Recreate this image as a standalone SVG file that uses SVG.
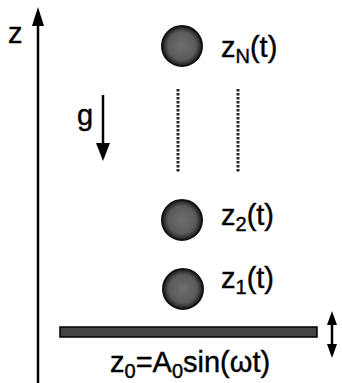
<svg xmlns="http://www.w3.org/2000/svg" width="342" height="383" viewBox="0 0 342 383">
<defs>
<radialGradient id="ballg" cx="50%" cy="50%" r="50%">
<stop offset="0%" stop-color="#6e6e6e"/>
<stop offset="70%" stop-color="#5a5a5a"/>
<stop offset="100%" stop-color="#1a1a1a"/>
</radialGradient>
</defs>
<style>
.t{font-family:"Liberation Sans",Arial,sans-serif;fill:#000;stroke:#000;stroke-width:0.4;font-size:29px}
.s{font-size:20px}
.ball{fill:url(#ballg);stroke:#111;stroke-width:2}
.ax{stroke:#000;stroke-width:2.5;fill:none}
.dot{stroke:#222;stroke-width:3;stroke-dasharray:2.5 1.5;fill:none}
.head{fill:#000;stroke:none}
</style>
<rect width="342" height="383" fill="#fff"/>
<g id="connectors">
<line class="ax" x1="38" y1="20" x2="38" y2="383"/>
<polygon class="head" points="38,7 32,26 44,26"/>
<line class="ax" x1="103" y1="95" x2="103" y2="148"/>
<polygon class="head" points="103,161 96,143 110,143"/>
<line class="dot" x1="178" y1="89" x2="178" y2="172"/>
<line class="dot" x1="238" y1="89" x2="238" y2="172"/>
<line class="ax" x1="332" y1="322" x2="332" y2="347"/>
<polygon class="head" points="332,311 327,325 337,325"/>
<polygon class="head" points="332,358 327,344 337,344"/>
</g>
<g id="axis-label"><text class="t" x="8" y="43">z</text></g>
<g id="g-label"><text class="t" x="77" y="125">g</text></g>
<g id="ballN"><circle class="ball" cx="182" cy="46" r="20"/><text class="t" x="221" y="57">z<tspan class="s" dy="6">N</tspan><tspan dy="-6">(t)</tspan></text></g>
<g id="ball2"><circle class="ball" cx="182" cy="220" r="20"/><text class="t" x="221" y="225">z<tspan class="s" dy="6">2</tspan><tspan dy="-6">(t)</tspan></text></g>
<g id="ball1"><circle class="ball" cx="183" cy="289" r="20"/><text class="t" x="221" y="288">z<tspan class="s" dy="6">1</tspan><tspan dy="-6">(t)</tspan></text></g>
<g id="plate"><rect x="60" y="327" width="257" height="10" fill="#444" stroke="#000" stroke-width="1.5"/></g>
<g id="drive-label"><text class="t" x="110" y="372">z<tspan class="s" dy="6">0</tspan><tspan dy="-6">=A</tspan><tspan class="s" dy="6">0</tspan><tspan dy="-6">sin(ωt)</tspan></text></g>
</svg>
